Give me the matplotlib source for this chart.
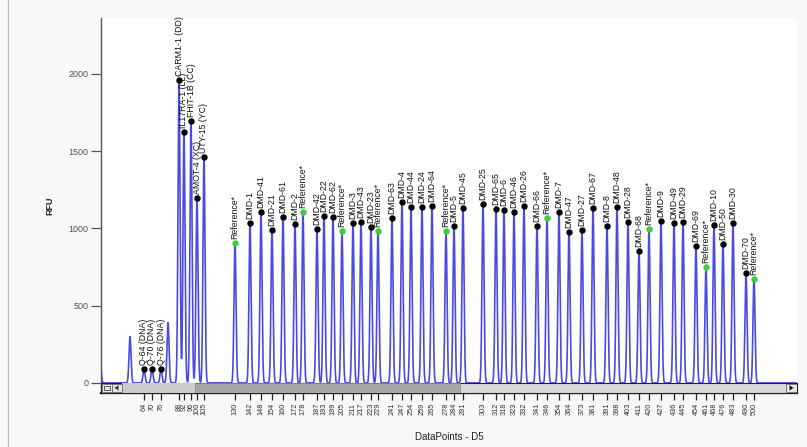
import numpy as np
import matplotlib
matplotlib.use("Agg")
import matplotlib.pyplot as plt
from matplotlib.patches import Rectangle, Polygon
from matplotlib.lines import Line2D
import matplotlib.transforms as mtransforms

plt.rcParams['font.family'] = ['Liberation Sans', 'DejaVu Sans']

# Labelled fragments: name, size label, scan position (data points), height (RFU)
probe_names = [
    "Q-64 (DNA)", "Q-70 (DNA)", "Q-76 (DNA)",
    "CARM1-1 (DD)", "IL17RA-1 (LL)", "FHIT-1B (CC)", "AMOT-4 (XC)", "UTY-15 (YC)",
    "Reference*",
    "DMD-1", "DMD-41", "DMD-21", "DMD-61", "DMD-2", "Reference*",
    "DMD-42", "DMD-22", "DMD-62", "Reference*", "DMD-3", "DMD-43", "DMD-23",
    "Reference*", "DMD-63", "DMD-4", "DMD-44", "DMD-24", "DMD-64", "Reference*",
    "DMD-5", "DMD-45",
    "DMD-25", "DMD-65", "DMD-6", "DMD-46", "DMD-26", "DMD-66", "Reference*",
    "DMD-7", "DMD-47", "DMD-27", "DMD-67", "DMD-8", "DMD-48", "DMD-28", "DMD-68",
    "Reference*", "DMD-9", "DMD-49", "DMD-29", "DMD-69", "Reference*", "DMD-10",
    "DMD-50", "DMD-30", "DMD-70", "Reference*",
]
probe_sizes = [
    "64", "70", "76",
    "88", "92", "96", "100", "105",
    "130",
    "142", "148", "154", "160", "172", "178",
    "187", "193", "199", "205", "211", "217", "223",
    "229", "241", "247", "254", "259", "265", "278",
    "284", "291",
    "303", "312", "318", "323", "332", "341", "346",
    "354", "364", "373", "381", "391", "398", "403", "411",
    "420", "427", "436", "445", "454", "461", "468",
    "476", "483", "490", "500",
]
probe_scan = [
    430, 510, 600,
    780, 830, 900, 960, 1030,
    1340,
    1490, 1600, 1710, 1820, 1940, 2020,
    2160, 2230, 2320, 2410, 2520, 2600, 2700,
    2770, 2910, 3010, 3100, 3210, 3310, 3450,
    3530, 3620,
    3820, 3950, 4030, 4130, 4230, 4360, 4460,
    4580, 4680, 4810, 4920, 5060, 5160, 5270, 5380,
    5480, 5600, 5730, 5820, 5950, 6050, 6130,
    6220, 6320, 6450, 6530,
]
probe_rfu = [
    90, 90, 92,
    1960, 1625, 1695, 1195, 1462,
    905,
    1035, 1106, 990, 1074, 1028, 1106,
    996, 1080, 1074, 983, 1035, 1041, 1009,
    983, 1067, 1171, 1138, 1138, 1145, 983,
    1015, 1132,
    1158, 1125, 1119, 1106, 1145, 1015, 1067,
    1106, 977, 990, 1132, 1015, 1138, 1041, 854,
    996, 1048, 1035, 1041, 886, 750, 1022,
    899, 1035, 712, 673,
]

# Unlabelled peaks (primer / side peaks)
other_scan = [-10, 290, 670]
other_rfu = [180, 300, 390]

x_min, x_max = 0, 6960
y_min, y_max = -65, 2361
peak_sigma = 10

fig = plt.figure(figsize=(8.07, 4.47), dpi=100, facecolor='#f8f8f8')
ax = fig.add_axes([101 / 807, 1 - 393 / 447, 696 / 807, (393 - 18) / 447])
ax.set_facecolor('white')

# Build the electropherogram trace from the peak list
scan = np.arange(x_min - 50, x_max + 1, 1.0)
trace = np.zeros_like(scan)
for pos, h in zip(list(probe_scan) + other_scan, list(probe_rfu) + other_rfu):
    trace += h * np.exp(-0.5 * ((scan - pos) / peak_sigma) ** 2)
ax.plot(scan, trace, color='#4a4ae4', lw=1.2, zorder=2)

# Peak markers and labels
for name, pos, h in zip(probe_names, probe_scan, probe_rfu):
    col = '#3ccc3c' if name.startswith('Reference') else 'black'
    ax.plot([pos], [h], 'o', ms=3.6, color=col, mec=col, zorder=4)
    ax.annotate(name, (pos, h), xytext=(0, 3), textcoords='offset points',
                rotation=90, ha='center', va='bottom', fontsize=6.3,
                color='#111111', zorder=5)

ax.set_xlim(x_min, x_max)
ax.set_ylim(y_min, y_max)

# Scroll bar along the baseline
tr = mtransforms.blended_transform_factory(ax.transAxes, ax.transData)
def fx(px):
    return (px - 101) / 696.0
ax.add_patch(Rectangle((0, y_min), 1, -y_min, transform=tr, facecolor='#d8d8d8',
                       edgecolor='#222222', lw=0.8, zorder=6, clip_on=False))
ax.add_patch(Rectangle((fx(122), y_min), fx(195) - fx(122), -y_min, transform=tr,
                       facecolor='#cbcbcb', edgecolor='none', zorder=6))
ax.add_patch(Rectangle((fx(195), y_min), fx(460) - fx(195), -y_min, transform=tr,
                       facecolor='#a6a6a6', edgecolor='#888888', lw=0.5, zorder=6))
for a, b in [(102, 111.5), (112, 121.5), (786, 796.5)]:
    ax.add_patch(Rectangle((fx(a), y_min + 5), fx(b) - fx(a), -y_min - 10,
                           transform=tr, facecolor='#e6e6e6', edgecolor='#666666',
                           lw=0.6, zorder=7))
ax.add_patch(Polygon([(fx(114.5), -32), (fx(118.5), -15), (fx(118.5), -49)], closed=True,
                     transform=tr, facecolor='#333333', edgecolor='none', zorder=8))
ax.add_patch(Polygon([(fx(793.5), -32), (fx(789.5), -15), (fx(789.5), -49)], closed=True,
                     transform=tr, facecolor='#111111', edgecolor='none', zorder=8))
ax.add_patch(Rectangle((fx(104), -45), fx(109.5) - fx(104), 26, transform=tr,
                       facecolor='none', edgecolor='#444444', lw=0.6, zorder=8))

# Axes styling
for side in ['top', 'right']:
    ax.spines[side].set_visible(False)
ax.spines['left'].set_color('#555555')
ax.spines['left'].set_linewidth(1.0)
ax.spines['bottom'].set_color('#111111')
ax.spines['bottom'].set_linewidth(1.6)

ax.set_yticks([0, 500, 1000, 1500, 2000])
ax.tick_params(axis='y', length=7, width=0.9, color='#555555',
               labelsize=6.5, labelcolor='#555555', pad=2)
ax.set_xticks(probe_scan)
ax.set_xticklabels(probe_sizes, rotation=90, fontsize=5.3, color='#333333')
ax.tick_params(axis='x', length=5, width=0.9, color='#222222', pad=2)

ax.set_xlabel('DataPoints - D5', fontsize=7, color='#222222', labelpad=12)
ax.set_ylabel('RFU', fontsize=6.5, fontweight='bold', color='#222222', labelpad=10)

fig.add_artist(Line2D([7.5 / 807, 7.5 / 807], [0, 1], color='#b8c2d0', lw=1.0))

fig.savefig('out.png', dpi=100, facecolor=fig.get_facecolor())
